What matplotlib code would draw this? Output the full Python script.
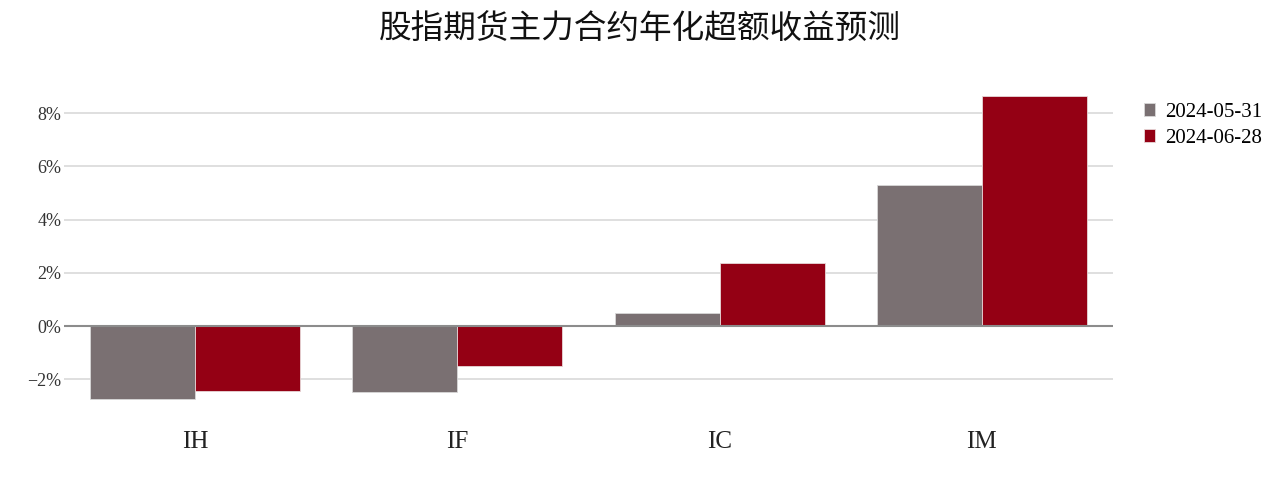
import matplotlib
matplotlib.use("Agg")
import matplotlib.pyplot as plt
import numpy as np
from matplotlib.ticker import FuncFormatter

categories = ["IH", "IF", "IC", "IM"]
series_names = ["2024-05-31", "2024-06-28"]
values_0531 = [-2.74, -2.48, 0.49, 5.30]
values_0628 = [-2.44, -1.50, 2.37, 8.64]
title = "股指期货主力合约年化超额收益预测"

colors = ["#7a7072", "#940014"]
serif = ["Liberation Serif", "Noto Sans CJK SC", "DejaVu Sans"]

fig = plt.figure(figsize=(12.8, 4.8), dpi=100)
ax = fig.add_axes([64/1280, 1-400/480, (1113-64)/1280, (400-90)/480])

x = np.arange(len(categories))
w = 0.4
ax.bar(x - w/2, values_0531, w, color=colors[0], edgecolor="#d8d8d8", linewidth=0.6, label=series_names[0], zorder=3)
ax.bar(x + w/2, values_0628, w, color=colors[1], edgecolor="#e8d8d8", linewidth=0.6, label=series_names[1], zorder=3)

ax.set_xlim(-0.5, 3.5)
ax.set_ylim(-2.78, 8.87)
ax.set_yticks([-2, 0, 2, 4, 6, 8])
ax.yaxis.set_major_formatter(FuncFormatter(lambda v, p: f"{int(v)}%".replace("-", "\u2212")))
ax.grid(axis="y", color="#d9d9d9", linewidth=1.2, zorder=0)
ax.axhline(0, color="#8c8c8c", linewidth=1.5, zorder=4)
for s in ax.spines.values():
    s.set_visible(False)
ax.tick_params(axis="both", length=0)
ax.tick_params(axis="y", pad=2, labelcolor="#333333")
ax.tick_params(axis="x", pad=22)
ax.set_xticks(x)
ax.set_xticklabels(categories)
for lab in ax.get_yticklabels():
    lab.set_fontfamily(serif)
    lab.set_fontsize(13)
for lab in ax.get_xticklabels():
    lab.set_fontfamily(serif)
    lab.set_fontsize(18)
    lab.set_color("#222222")

fig.text(0.5, 1-29/480, title, ha="center", va="center", fontsize=23.5,
         family=["Noto Sans CJK SC", "DejaVu Sans"], color="#111111")

leg = ax.legend(loc="upper left", bbox_to_anchor=(1125/1280, 1-84/480), bbox_transform=fig.transFigure,
                frameon=False, prop={"family": serif, "size": 15}, handlelength=0.55, handleheight=0.55,
                handletextpad=0.5, labelspacing=0.35)

fig.savefig("out.png", dpi=100)
